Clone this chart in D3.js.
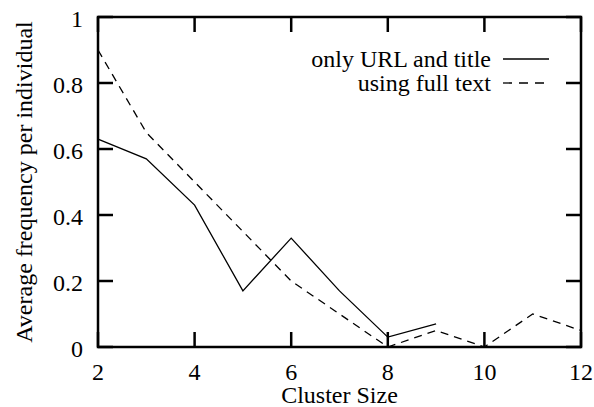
<!DOCTYPE html>
<html><head><meta charset="utf-8">
<script src="https://cdn.jsdelivr.net/npm/d3@7"></script>
<style>body{margin:0;background:#fff}svg{display:block}</style>
</head><body>
<script>
const xTicks = [2,4,6,8,10,12];
const yTicks = [0,0.2,0.4,0.6,0.8,1];
const urlX = [2,3,4,5,6,7,8,9];
const urlY = [0.63,0.57,0.43,0.17,0.33,0.17,0.03,0.07];
const fullX = [2,3,4,5,6,7,8,9,10,11,12];
const fullY = [0.9,0.65,0.5,0.35,0.2,0.1,0.0,0.05,0.0,0.1,0.05];
const seriesNames = ["only URL and title","using full text"];

const W=594,H=407, L=98,R=581,T=17,B=347;
const FF="Liberation Serif";
const svg=d3.select("body").append("svg").attr("width",W).attr("height",H);
const x=d3.scaleLinear().domain([2,12]).range([L,R]);
const y=d3.scaleLinear().domain([0,1]).range([B,T]);
const fs=24, tl=15;
function txt(sel){return sel.append("text").attr("font-family",FF).attr("font-size",fs).attr("fill","#000");}

const g=svg.append("g");
xTicks.forEach(t=>{
  g.append("line").attr("x1",x(t)).attr("x2",x(t)).attr("y1",B).attr("y2",B-tl).attr("stroke","#000").attr("stroke-width",2.5);
  g.append("line").attr("x1",x(t)).attr("x2",x(t)).attr("y1",T).attr("y2",T+tl).attr("stroke","#000").attr("stroke-width",2.5);
  txt(g).attr("x",x(t)).attr("y",380).attr("text-anchor","middle").text(t);
});
yTicks.forEach(t=>{
  g.append("line").attr("x1",L).attr("x2",L+tl).attr("y1",y(t)).attr("y2",y(t)).attr("stroke","#000").attr("stroke-width",2.5);
  g.append("line").attr("x1",R).attr("x2",R-tl).attr("y1",y(t)).attr("y2",y(t)).attr("stroke","#000").attr("stroke-width",2.5);
  txt(g).attr("x",83).attr("y",y(t)+9.5).attr("text-anchor","end").text(t===0||t===1?String(t):t.toFixed(1));
});
g.append("rect").attr("x",L).attr("y",T).attr("width",R-L).attr("height",B-T).attr("fill","none").attr("stroke","#000").attr("stroke-width",2.5);

const line=d3.line().x(d=>x(d[0])).y(d=>y(d[1]));
svg.append("path").datum(urlX.map((v,i)=>[v,urlY[i]])).attr("d",line).attr("fill","none").attr("stroke","#000").attr("stroke-width",1.3);
svg.append("path").datum(fullX.map((v,i)=>[v,fullY[i]])).attr("d",line).attr("fill","none").attr("stroke","#000").attr("stroke-width",1.3).attr("stroke-dasharray","8,6");

const lg=[{y:59,dash:null},{y:83,dash:"9,7"}];
lg.forEach((d,i)=>{
  txt(svg).attr("x",491).attr("y",d.y+7.5).attr("text-anchor","end").text(seriesNames[i]);
  const ln=svg.append("line").attr("x1",503).attr("x2",549).attr("y1",d.y).attr("y2",d.y).attr("stroke","#000").attr("stroke-width",1.3);
  if(d.dash) ln.attr("stroke-dasharray",d.dash);
});

txt(svg).attr("x",(L+R)/2).attr("y",403).attr("text-anchor","middle").text("Cluster Size");
txt(svg).attr("transform","translate(32,182) rotate(-90)").attr("text-anchor","middle").text("Average frequency per individual");
</script>
</body></html>
